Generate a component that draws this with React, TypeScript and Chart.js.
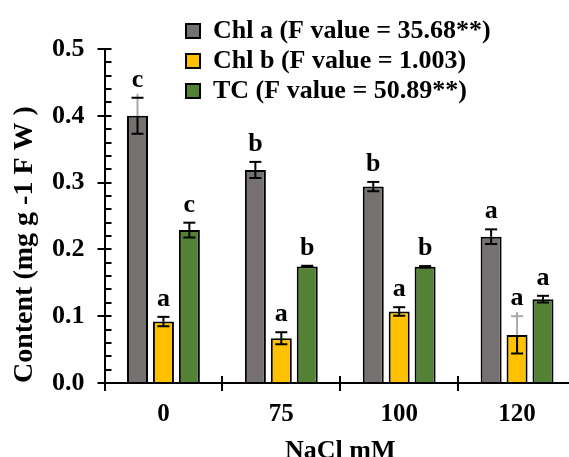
import { useEffect, useRef } from 'react';
import { Chart, registerables } from 'chart.js';

Chart.register(...registerables);

// ---------- data ----------
const categories = ['0', '75', '100', '120'];
const seriesLabels = [
  'Chl a (F value = 35.68**)',
  'Chl b (F value = 1.003)',
  'TC (F value = 50.89**)',
];
const chlA = [0.4, 0.319, 0.294, 0.219];
const chlB = [0.092, 0.067, 0.107, 0.072];
const tc = [0.229, 0.1745, 0.174, 0.1255];
const chlAErr = [0.027, 0.012, 0.007, 0.011];
const chlBErr = [0.007, 0.009, 0.0065, 0.028];
const tcErr = [0.011, 0.001, 0.001, 0.005];
const chlALetters = ['c', 'b', 'b', 'a'];
const chlBLetters = ['a', 'a', 'a', 'a'];
const tcLetters = ['c', 'b', 'b', 'a'];
const yMin = 0;
const yMax = 0.5;
const yStep = 0.1;
const yMinorStep = 0.02;

// ---------- style ----------
const FONT = "'Liberation Serif', 'Times New Roman', serif";
const colors = ['#767171', '#FFC000', '#548235'];
const errs = [chlAErr, chlBErr, tcErr];
const letters = [chlALetters, chlBLetters, tcLetters];
const faint: Record<string, { stem: boolean; cap: boolean }> = {
  '0-0': { stem: true, cap: false },
  '1-3': { stem: true, cap: true },
};

function drawAxisTicks(chart: any) {
  const ctx = chart.ctx;
  const xs = chart.scales.x;
  const ys = chart.scales.y;
  const axisX = chart.chartArea.left;
  const axisY = chart.chartArea.bottom;
  ctx.save();
  ctx.strokeStyle = '#000';
  ctx.lineWidth = 2;
  ctx.beginPath();
  const n = Math.round((ys.max - ys.min) / yMinorStep);
  for (let k = 0; k <= n; k++) {
    const py = Math.round(ys.getPixelForValue(ys.min + k * yMinorStep));
    ctx.moveTo(axisX, py);
    ctx.lineTo(axisX + 7, py);
  }
  for (let i = 0; i <= categories.length; i++) {
    const px = Math.round(xs.getPixelForValue(i - 0.5));
    ctx.moveTo(px, axisY);
    ctx.lineTo(px, axisY - 7);
  }
  ctx.stroke();
  ctx.restore();
}

const errorBarPlugin = {
  id: 'errorBars',
  afterDatasetsDraw(chart: any) {
    const ctx = chart.ctx;
    const y = chart.scales.y;
    drawAxisTicks(chart);
    chart.data.datasets.forEach((ds: any, di: number) => {
      const meta = chart.getDatasetMeta(di);
      meta.data.forEach((bar: any, i: number) => {
        const v = ds.data[i];
        const e = errs[di][i];
        const x = bar.x;
        const yMid = y.getPixelForValue(v);
        const yTop = y.getPixelForValue(v + e);
        const yBot = y.getPixelForValue(v - e);
        const f = faint[`${di}-${i}`];
        const capHalf = 6;
        ctx.save();
        ctx.lineWidth = 2;
        ctx.lineCap = 'butt';
        ctx.strokeStyle = '#000';
        ctx.beginPath();
        ctx.moveTo(x, yMid);
        ctx.lineTo(x, yBot);
        ctx.moveTo(x - capHalf, yBot);
        ctx.lineTo(x + capHalf, yBot);
        ctx.stroke();
        ctx.strokeStyle = f && f.stem ? '#a9a9a9' : '#000';
        ctx.beginPath();
        ctx.moveTo(x, yMid);
        ctx.lineTo(x, yTop - (f && f.stem ? 4 : 0));
        ctx.stroke();
        ctx.strokeStyle = f && f.cap ? '#a9a9a9' : '#000';
        ctx.beginPath();
        ctx.moveTo(x - capHalf, yTop);
        ctx.lineTo(x + capHalf, yTop);
        ctx.stroke();
        ctx.fillStyle = '#000';
        ctx.font = `bold 26px ${FONT}`;
        ctx.textAlign = 'center';
        ctx.textBaseline = 'alphabetic';
        ctx.fillText(letters[di][i], x, yTop - 11);
        ctx.restore();
      });
    });
  },
};

const moveLegendPlugin = {
  id: 'moveLegend',
  afterLayout(chart: any) {
    const lg = chart.legend;
    if (!lg) return;
    lg.left = 182;
    lg.top = 14;
    lg.right = 182 + lg.width;
    lg.bottom = 14 + 200;
  },
};

export default function App() {
  const ref = useRef<HTMLCanvasElement | null>(null);

  useEffect(() => {
    if (!ref.current) return;
    const seriesData = [chlA, chlB, tc];
    const chart = new Chart(ref.current, {
      type: 'bar',
      data: {
        labels: categories,
        datasets: seriesData.map((d, i) => ({
          label: seriesLabels[i],
          data: d,
          backgroundColor: colors[i],
          borderColor: '#000',
          borderWidth: 2,
          categoryPercentage: 0.66,
          barPercentage: 0.81,
        })),
      },
      options: {
        responsive: false,
        animation: false,
        layout: { padding: { left: 8, top: 49, right: 24, bottom: 6 } },
        plugins: {
          tooltip: { enabled: false },
          legend: {
            position: 'chartArea' as any,
            align: 'start',
            labels: {
              font: { family: FONT, size: 26, weight: 'bold' },
              color: '#000',
              boxWidth: 14,
              boxHeight: 14,
              padding: 4,
            },
          },
        },
        scales: {
          x: {
            grid: {
              display: true,
              drawOnChartArea: false,
              drawTicks: true,
              tickLength: 8,
              color: '#000',
              lineWidth: 2,
              offset: true,
            },
            border: { display: true, color: '#000', width: 2 },
            ticks: {
              font: { family: FONT, size: 25, weight: 'bold', lineHeight: 1.0 },
              color: '#000',
              padding: 11,
            },
            title: {
              display: true,
              text: 'NaCl mM',
              font: { family: FONT, size: 26, weight: 'bold', lineHeight: 1.0 },
              color: '#000',
              padding: { top: 0, bottom: 0 },
            },
          },
          y: {
            min: yMin,
            max: yMax,
            ticks: {
              stepSize: yStep,
              callback: (v: any) => Number(v).toFixed(1),
              font: { family: FONT, size: 26, weight: 'bold' },
              color: '#000',
              padding: 13,
            },
            grid: {
              display: true,
              drawOnChartArea: false,
              drawTicks: true,
              tickLength: 7,
              color: '#000',
              lineWidth: 2,
            },
            border: { display: true, color: '#000', width: 2 },
            title: {
              display: true,
              text: 'Content (mg g -1 F W )',
              align: 'start',
              font: { family: FONT, size: 28, weight: 'bold', lineHeight: 1.0 },
              color: '#000',
              padding: { top: 3, bottom: 0 },
            },
          },
        },
      },
      plugins: [errorBarPlugin, moveLegendPlugin],
    });
    return () => chart.destroy();
  }, []);

  return (
    <div
      style={{
        position: 'fixed',
        left: 0,
        top: 0,
        width: 569,
        height: 457,
        overflow: 'hidden',
        background: '#fff',
      }}
    >
      <canvas ref={ref} width={600} height={470} style={{ display: 'block' }} />
    </div>
  );
}
